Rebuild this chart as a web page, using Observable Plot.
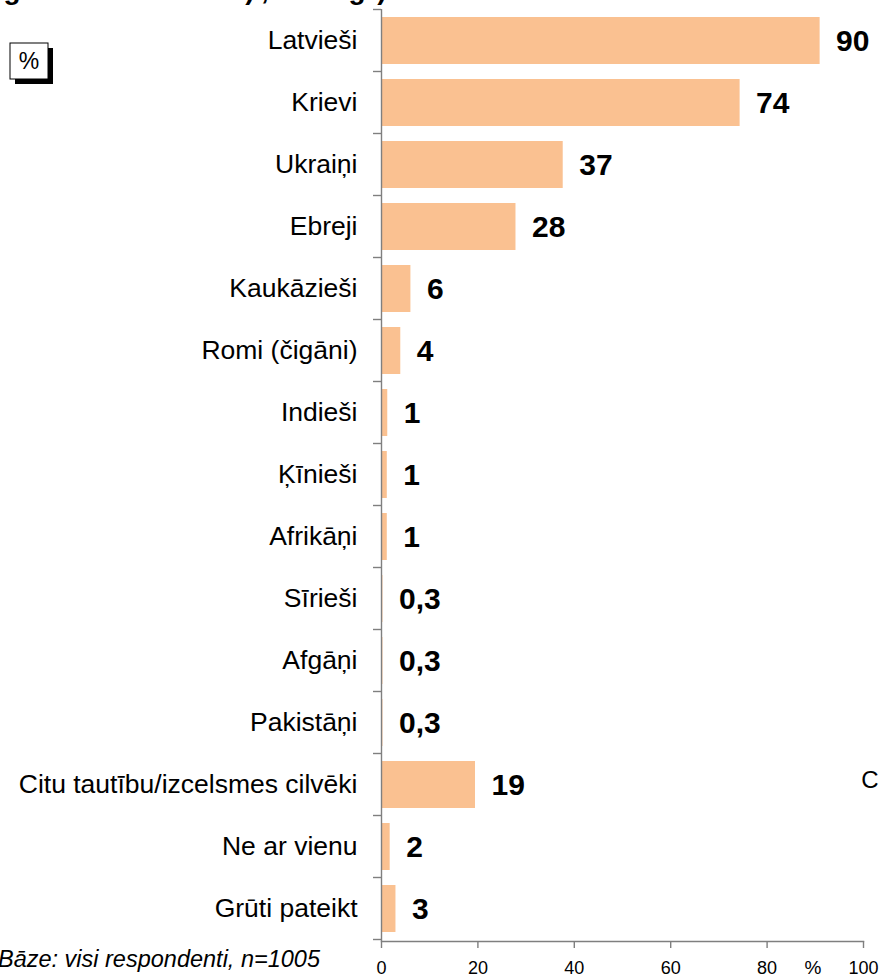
<!DOCTYPE html>
<html>
<head>
<meta charset="utf-8">
<script src="https://cdn.jsdelivr.net/npm/d3@7"></script>
<script src="https://cdn.jsdelivr.net/npm/@observablehq/plot@0.6"></script>
<style>
  body { margin: 0; background: #fff; }
  #chart { width: 888px; height: 978px; overflow: hidden; }
  svg { overflow: hidden; }
</style>
</head>
<body>
<div id="chart"></div>
<script>
// ---- data ----
const categories = [
  "Latvieši", "Krievi", "Ukraiņi", "Ebreji", "Kaukāzieši", "Romi (čigāni)",
  "Indieši", "Ķīnieši", "Afrikāņi", "Sīrieši", "Afgāņi", "Pakistāņi",
  "Citu tautību/izcelsmes cilvēki", "Ne ar vienu", "Grūti pateikt"
];
const values = [91, 74.4, 37.7, 27.9, 6.1, 4.0, 1.3, 1.2, 1.2, 0.3, 0.3, 0.3, 19.5, 1.8, 3.0];
const valueLabels = ["90", "74", "37", "28", "6", "4", "1", "1", "1", "0,3", "0,3", "0,3", "19", "2", "3"];
const xTicks = [0, 20, 40, 60, 80, 100];
const unitLabel = "%";
const baseNote = "Bāze: visi respondenti, n=1005";

// ---- style ----
const barColor = "#FAC191";
const axisColor = "#7f7f7f";
const font = "Liberation Sans, Arial, sans-serif";

const data = categories.map((c, i) => ({cat: c, value: values[i], label: valueLabels[i]}));

const plot = Plot.plot({
  width: 888,
  height: 978,
  marginLeft: 381,
  marginRight: 25,
  marginTop: 9,
  marginBottom: 37,
  style: {fontFamily: font, background: "white", color: "black", overflow: "hidden"},
  x: {domain: [0, 100], label: null},
  y: {domain: categories, paddingInner: 0.24, paddingOuter: 0.12, label: null},
  marks: [
    Plot.barX(data, {x: "value", y: "cat", fill: barColor}),
    Plot.ruleX([0], {stroke: axisColor, strokeWidth: 1.4}),
    Plot.frame({anchor: "bottom", stroke: axisColor, strokeWidth: 1.4}),
    Plot.axisX({ticks: xTicks, tickSize: 7, stroke: axisColor, strokeWidth: 1.4, tickFormat: () => ""}),
    Plot.text(xTicks, {x: d => d, frameAnchor: "bottom", lineAnchor: "top", dy: 20, text: d => String(d), fontSize: 18, fill: "black"}),
    Plot.axisY({tickSize: 0, tickPadding: 24, fontSize: 26.5, fill: "black"}),
    Plot.text(data, {x: "value", y: "cat", text: "label", textAnchor: "start", dx: 16, fontSize: 30, fontWeight: "bold", fill: "black"})
  ]
});

document.getElementById("chart").appendChild(plot);

const svg = d3.select(plot);

// band-boundary ticks on the category axis, from the library's y scale
const ys = plot.scale("y");
const xs = plot.scale("x");
const x0 = xs.apply(0);
let step = ys.step;
if (step === undefined) step = ys.apply(categories[1]) - ys.apply(categories[0]);
const bw = ys.bandwidth !== undefined ? ys.bandwidth : step * 0.76;
const off = (step - bw) / 2;
const bounds = categories.map(c => ys.apply(c) - off);
bounds.push(bounds[bounds.length - 1] + step);
svg.append("g")
  .attr("stroke", axisColor)
  .attr("stroke-width", 1.4)
  .selectAll("line").data(bounds).join("line")
  .attr("x1", x0 - 8).attr("x2", x0)
  .attr("y1", d => d).attr("y2", d => d);

// decorations
const deco = svg.append("g").style("font-family", font).attr("fill", "black");
// cut-off title fragments at the very top
const frag = deco.append("g").style("font-weight", "bold").style("font-size", "28px");
[["g", 12], [")", 250], [",", 265], ["g", 357], [")", 382]].forEach(([t, x]) => {
  frag.append("text").attr("x", x).attr("y", -1).text(t);
});
// "%" box with shadow
deco.append("rect").attr("x", 15).attr("y", 48).attr("width", 38).attr("height", 36).attr("fill", "black");
deco.append("rect").attr("x", 10).attr("y", 43).attr("width", 38).attr("height", 36).attr("fill", "white").attr("stroke", "black").attr("stroke-width", 1);
deco.append("text").attr("x", 29).attr("y", 69).attr("text-anchor", "middle").style("font-size", "23px").text(unitLabel);
// unit label near the x axis
deco.append("text").attr("x", 813).attr("y", 974).style("font-size", "19px").text(unitLabel);
// stray "C"
deco.append("text").attr("x", 870).attr("y", 788).style("font-size", "24px").text("C");
// base note
deco.append("text").attr("x", 320).attr("y", 967).attr("text-anchor", "end").style("font-style", "italic").style("font-size", "23.5px").text(baseNote);
</script>
</body>
</html>
